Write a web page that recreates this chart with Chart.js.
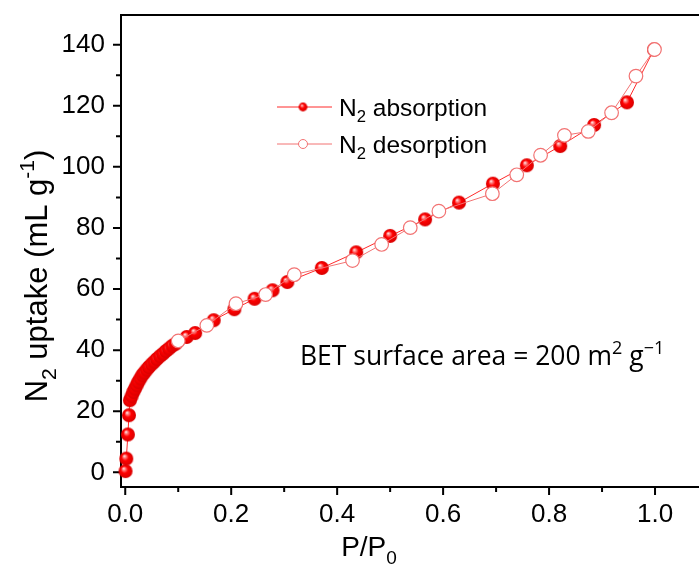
<!DOCTYPE html>
<html>
<head>
<meta charset="utf-8">
<script src="https://cdn.jsdelivr.net/npm/chart.js@4.4.1/dist/chart.umd.min.js"></script>
<style>
  html, body { margin: 0; padding: 0; background: #fff; }
  #wrap { width: 699px; height: 565px; position: relative; }
</style>
</head>
<body>
<div id="wrap"><canvas id="chart"></canvas></div>
<script>
"use strict";
// N2 absorption (filled spheres)
const absP = [0.0005, 0.002, 0.005, 0.007, 0.0088, 0.0119, 0.0151, 0.0182, 0.0214, 0.0245, 0.0283, 0.0321,
  0.0358, 0.0403, 0.0447, 0.0497, 0.0547, 0.0597, 0.0654, 0.0711, 0.0767, 0.0824, 0.0887, 0.095,
  0.116, 0.132, 0.167, 0.206, 0.244, 0.278, 0.306, 0.371, 0.436, 0.500, 0.566, 0.630, 0.694,
  0.758, 0.821, 0.885, 0.947, 0.998];
const absV = [0.4, 4.5, 12.4, 18.7, 23.6, 24.9, 26.3, 27.4, 28.5, 29.6, 30.7, 31.8,
  32.6, 33.6, 34.5, 35.4, 36.2, 37.1, 38.0, 38.8, 39.7, 40.5, 41.4, 42.1,
  44.3, 45.6, 49.8, 53.4, 56.8, 59.6, 62.3, 66.9, 72.0, 77.4, 82.8, 88.3, 94.5,
  100.5, 106.8, 113.7, 121.1, 138.4];
// N2 desorption (open circles)
const desP = [0.999, 0.964, 0.918, 0.874, 0.829, 0.784, 0.739, 0.693, 0.592, 0.538, 0.484, 0.429,
  0.319, 0.265, 0.209, 0.154, 0.100];
const desV = [138.4, 129.7, 117.7, 111.6, 110.3, 103.8, 97.4, 91.2, 85.5, 80.1, 74.6, 69.3,
  64.7, 58.2, 55.2, 48.1, 43.0];

const xTicks = [0, 0.2, 0.4, 0.6, 0.8, 1.0];
const xMinor = [0.1, 0.3, 0.5, 0.7, 0.9];
const yTicks = [0, 20, 40, 60, 80, 100, 120, 140];
const yMinor = [10, 30, 50, 70, 90, 110, 130];

const FONT = "'Liberation Sans', Arial, sans-serif";
const BETFONT = "'Open Sans', sans-serif";
const absColor = "#ff2a2a";
const desColor = "#f27373";

function sphere(r) {
  const c = document.createElement("canvas");
  const d = Math.ceil(r * 2) + 2;
  c.width = d; c.height = d;
  const g = c.getContext("2d");
  const cx = d / 2, cy = d / 2;
  const grad = g.createRadialGradient(cx - r * 0.3, cy - r * 0.4, 0, cx, cy, r);
  grad.addColorStop(0, "#ffffff");
  grad.addColorStop(0.22, "#ff8080");
  grad.addColorStop(0.5, "#ff0000");
  grad.addColorStop(1, "#d80000");
  g.fillStyle = grad;
  g.beginPath();
  g.arc(cx, cy, r, 0, Math.PI * 2);
  g.fill();
  return c;
}

function richWidth(ctx, parts, size) {
  let w = 0;
  for (const p of parts) {
    ctx.font = (p.s ? size * 0.68 : size) + "px " + (p.f || FONT);
    w += ctx.measureText(p.t).width;
  }
  return w;
}

function drawRich(ctx, parts, x, y, size) {
  let cx = x;
  for (const p of parts) {
    const fs = p.s ? size * 0.68 : size;
    ctx.font = fs + "px " + (p.f || FONT);
    let dy = 0;
    if (p.s === "sub") dy = size * 0.28;
    if (p.s === "sup") dy = -size * 0.42;
    ctx.fillText(p.t, cx, y + dy);
    cx += ctx.measureText(p.t).width;
  }
}

const sphereBig = sphere(7);
const sphereSmall = sphere(4.4);

const frame = {
  id: "frame",
  beforeDatasetsDraw(chart) {
    const { ctx, chartArea: a, scales: { x, y } } = chart;
    ctx.save();
    ctx.strokeStyle = "#000";
    ctx.lineWidth = 2;
    ctx.beginPath();
    ctx.moveTo(a.right + 2, a.top);
    ctx.lineTo(a.left, a.top);
    ctx.lineTo(a.left, a.bottom);
    ctx.lineTo(a.right + 2, a.bottom);
    ctx.stroke();
    ctx.beginPath();
    for (const v of xTicks) { const px = x.getPixelForValue(v); ctx.moveTo(px, a.bottom); ctx.lineTo(px, a.bottom + 8); }
    for (const v of xMinor) { const px = x.getPixelForValue(v); ctx.moveTo(px, a.bottom); ctx.lineTo(px, a.bottom + 5); }
    for (const v of yTicks) { const py = y.getPixelForValue(v); ctx.moveTo(a.left, py); ctx.lineTo(a.left - 8, py); }
    for (const v of yMinor) { const py = y.getPixelForValue(v); ctx.moveTo(a.left, py); ctx.lineTo(a.left - 5, py); }
    ctx.stroke();
    ctx.restore();
  },
  afterDraw(chart) {
    const { ctx } = chart;
    ctx.save();
    ctx.fillStyle = "#000";
    ctx.textBaseline = "alphabetic";

    // x axis title
    const xt = [{ t: "P/P" }, { t: "0", s: "sub" }];
    drawRich(ctx, xt, 369 - richWidth(ctx, xt, 28) / 2, 556, 28);

    // y axis title
    const yt = [{ t: "N" }, { t: "2", s: "sub" }, { t: " uptake (mL g" }, { t: "-1", s: "sup" }, { t: ")" }];
    ctx.translate(47, 276);
    ctx.rotate(-Math.PI / 2);
    drawRich(ctx, yt, -richWidth(ctx, yt, 31) / 2, 0, 31);
    ctx.setTransform(1, 0, 0, 1, 0, 0);

    // legend
    const rows = [
      { y: 107, color: absColor, filled: true, label: "absorption" },
      { y: 144, color: desColor, filled: false, label: "desorption" }
    ];
    for (const r of rows) {
      ctx.strokeStyle = r.color;
      ctx.lineWidth = 1;
      ctx.beginPath();
      ctx.moveTo(277, r.y); ctx.lineTo(332, r.y);
      ctx.stroke();
      if (r.filled) {
        ctx.drawImage(sphereSmall, 303 - sphereSmall.width / 2, r.y - sphereSmall.height / 2);
      } else {
        ctx.fillStyle = "#fff";
        ctx.beginPath();
        ctx.arc(303, r.y, 4.5, 0, Math.PI * 2);
        ctx.fill();
        ctx.stroke();
      }
      ctx.fillStyle = "#000";
      drawRich(ctx, [{ t: "N" }, { t: "2", s: "sub" }, { t: " " + r.label }], 339, r.y + 8.5, 24.5);
    }

    // BET annotation
    const bet = [
      { t: "BET surface area = 200 m", f: BETFONT },
      { t: "2", s: "sup", f: BETFONT },
      { t: " g", f: BETFONT },
      { t: "\u22121", s: "sup", f: BETFONT }
    ];
    drawRich(ctx, bet, 300, 365, 26.5);
    ctx.restore();
  }
};

new Chart(document.getElementById("chart"), {
  type: "scatter",
  data: {
    datasets: [
      {
        label: "N2 absorption",
        data: absP.map((p, i) => ({ x: p, y: absV[i] })),
        showLine: true,
        borderColor: absColor,
        borderWidth: 1,
        pointStyle: sphereBig,
        pointRadius: 7,
        clip: false,
        order: 2
      },
      {
        label: "N2 desorption",
        data: desP.map((p, i) => ({ x: p, y: desV[i] })),
        showLine: true,
        borderColor: desColor,
        borderWidth: 1,
        pointStyle: "circle",
        pointRadius: 6.8,
        pointBorderWidth: 1.2,
        pointBorderColor: desColor,
        pointBackgroundColor: "#ffffff",
        clip: false,
        order: 1
      }
    ]
  },
  options: {
    responsive: true,
    maintainAspectRatio: false,
    animation: false,
    layout: { autoPadding: false, padding: { top: 15, right: 0, left: 0, bottom: 0 } },
    plugins: { legend: { display: false }, tooltip: { enabled: false } },
    scales: {
      x: {
        type: "linear",
        min: -0.008,
        max: 1.083,
        grid: { display: false, drawTicks: false },
        border: { display: false },
        afterBuildTicks: (s) => { s.ticks = xTicks.map(v => ({ value: v })); },
        afterFit: (s) => { s.height = 78; s.paddingLeft = 0; s.paddingRight = 0; },
        ticks: {
          color: "#000",
          font: { family: FONT, size: 26 },
          padding: 12,
          maxRotation: 0,
          callback: (v) => Number(v).toFixed(1)
        }
      },
      y: {
        type: "linear",
        min: -4.8,
        max: 149.7,
        grid: { display: false, drawTicks: false },
        border: { display: false },
        afterBuildTicks: (s) => { s.ticks = yTicks.map(v => ({ value: v })); },
        afterFit: (s) => { s.width = 121; s.paddingTop = 0; s.paddingBottom = 0; },
        ticks: {
          color: "#000",
          font: { family: FONT, size: 26 },
          padding: 16
        }
      }
    }
  },
  plugins: [frame]
});
</script>
</body>
</html>
